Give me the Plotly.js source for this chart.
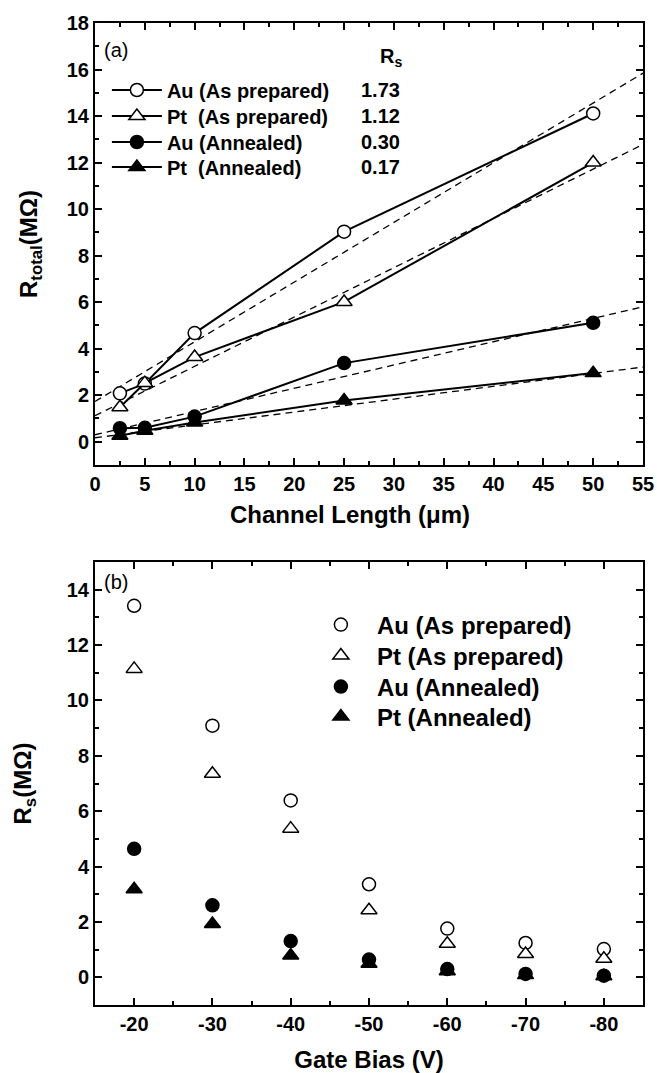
<!DOCTYPE html>
<html>
<head>
<meta charset="utf-8">
<script src="https://cdn.plot.ly/plotly-3.0.1.min.js"></script>
<style>html,body{margin:0;padding:0;background:#fff;}</style>
</head>
<body>
<div id="chart" style="width:657px;height:1073px;"></div>
<script>
// Panel (a): total resistance against channel length
const channelLength = [2.5, 5, 10, 25, 50];
const auPrepTotal = [2.08, 2.50, 4.67, 9.03, 14.11];
const ptPrepTotal = [1.48, 2.52, 3.64, 6.01, 12.00];
const auAnnTotal  = [0.58, 0.60, 1.08, 3.38, 5.11];
const ptAnnTotal  = [0.26, 0.47, 0.83, 1.77, 2.95];

// Linear fits of panel (a): intercept equals Rs, slope in MΩ per µm
const fitRs    = [1.73, 1.12, 0.30, 0.17];
const fitSlope = [0.2566, 0.212, 0.100, 0.0553];
const fitRange = [0, 55];

// Panel (b): series resistance against gate bias
const gateBias = [-20, -30, -40, -50, -60, -70, -80];
const gateBiasLabels = ['-20', '-30', '-40', '-50', '-60', '-70', '-80'];
const auPrepRs = [13.42, 9.09, 6.39, 3.36, 1.76, 1.24, 1.02];
const ptPrepRs = [11.14, 7.35, 5.37, 2.42, 1.21, 0.84, 0.67];
const auAnnRs  = [4.64, 2.60, 1.31, 0.64, 0.30, 0.12, 0.06];
const ptAnnRs  = [3.18, 1.93, 0.79, 0.49, 0.22, 0.08, 0.04];

const namesA = ['Au (As prepared)', 'Pt  (As prepared)', 'Au (Annealed)', 'Pt  (Annealed)'];
const namesB = ['Au (As prepared)', 'Pt (As prepared)', 'Au (Annealed)', 'Pt (Annealed)'];

const FONT = 'Liberation Sans, Arial, Helvetica, sans-serif';
const markerStyles = [
  {symbol: 'circle', color: '#fff'},
  {symbol: 'triangle-up', color: '#fff'},
  {symbol: 'circle', color: '#000'},
  {symbol: 'triangle-up', color: '#000'}
];
const markerSize = [13, 14, 13, 14];

const totals = [auPrepTotal, ptPrepTotal, auAnnTotal, ptAnnTotal];
const rsSeries = [auPrepRs, ptPrepRs, auAnnRs, ptAnnRs];

// one legend box per key row, so each row sits at its own height
const legendIdsA = ['legend', 'legend2', 'legend3', 'legend4'];
const legendIdsB = ['legend5', 'legend6', 'legend7', 'legend8'];
const rowPxA = [90, 116, 142, 167];
const rowPxB = [625, 656, 687, 717];

const traces = [];

// dashed fit lines behind the measured points
fitRs.forEach((b, i) => {
  traces.push({
    x: fitRange,
    y: fitRange.map(L => b + fitSlope[i] * L),
    xaxis: 'x', yaxis: 'y',
    mode: 'lines',
    line: {color: '#000', width: 1.3, dash: '7px,5px'},
    showlegend: false, hoverinfo: 'skip'
  });
});

totals.forEach((ys, i) => {
  traces.push({
    x: channelLength, y: ys, name: namesA[i],
    xaxis: 'x', yaxis: 'y', legend: legendIdsA[i],
    mode: 'lines+markers',
    line: {color: '#000', width: 2},
    marker: {symbol: markerStyles[i].symbol, color: markerStyles[i].color,
             size: markerSize[i], line: {color: '#000', width: 1.5}}
  });
});

rsSeries.forEach((ys, i) => {
  traces.push({
    x: gateBias, y: ys, name: namesB[i],
    xaxis: 'x2', yaxis: 'y2', legend: legendIdsB[i],
    mode: 'markers',
    marker: {symbol: markerStyles[i].symbol, color: markerStyles[i].color,
             size: markerSize[i], line: {color: '#000', width: 1.5}}
  });
});

const axisBase = {
  showline: true, linewidth: 2, linecolor: '#000', mirror: 'ticks',
  ticks: 'inside', ticklen: 7, tickwidth: 2, tickcolor: '#000',
  showgrid: false, zeroline: false,
  tickfont: {family: FONT, size: 20, color: '#000', weight: 'bold'},
  minor: {ticks: 'inside', ticklen: 4, tickwidth: 2, tickcolor: '#000', showgrid: false}
};
const titleFont = {family: FONT, size: 24, color: '#000', weight: 'bold'};
const boldFont = (size) => ({family: FONT, size: size, color: '#000', weight: 'bold'});

const plotTop = 23, plotBottomPx = 1005, plotH = 982;
const paperY = (px) => (plotBottomPx - px) / plotH;

const layout = {
  width: 657, height: 1073,
  margin: {l: 95, r: 14, t: plotTop, b: 68},
  paper_bgcolor: '#fff', plot_bgcolor: '#fff',
  font: boldFont(20),
  xaxis: Object.assign({}, axisBase, {
    anchor: 'y', domain: [0, 1], range: [0, 55], tick0: 0, dtick: 5,
    minor: Object.assign({}, axisBase.minor, {dtick: 2.5})
  }),
  yaxis: Object.assign({}, axisBase, {
    anchor: 'x', domain: [0.5499, 1], range: [-1, 18], tick0: 0, dtick: 2,
    minor: Object.assign({}, axisBase.minor, {dtick: 1}),
    title: {text: 'R<sub>total</sub>(MΩ)', font: titleFont, standoff: 22}
  }),
  xaxis2: Object.assign({}, axisBase, {
    anchor: 'y2', domain: [0, 1], range: [-15, -85],
    tickmode: 'array', tickvals: gateBias, ticktext: gateBiasLabels,
    minor: Object.assign({}, axisBase.minor, {tickmode: 'linear', tick0: 0, dtick: 5}),
    title: {text: 'Gate Bias (V)', font: titleFont, standoff: 22}
  }),
  yaxis2: Object.assign({}, axisBase, {
    anchor: 'x2', domain: [0, 0.4511], range: [-1, 15], tick0: 0, dtick: 2,
    minor: Object.assign({}, axisBase.minor, {dtick: 1}),
    title: {text: 'R<sub>s</sub>(MΩ)', font: titleFont, standoff: 28}
  }),
  annotations: [
    // x title of panel (a), set slightly left of the panel centre
    {text: 'Channel Length (μm)', xref: 'x domain', yref: 'y domain', x: 0.465, y: -0.113,
     xanchor: 'center', yanchor: 'middle', showarrow: false, font: titleFont},
    {text: '(a)', xref: 'x domain', yref: 'y domain', x: 0.013, y: 0.94,
     xanchor: 'left', yanchor: 'middle', showarrow: false,
     font: {family: FONT, size: 20, color: '#000', weight: 'normal'}},
    {text: '(b)', xref: 'x2 domain', yref: 'y2 domain', x: 0.013, y: 0.955,
     xanchor: 'left', yanchor: 'middle', showarrow: false,
     font: {family: FONT, size: 20, color: '#000', weight: 'normal'}},
    {text: 'R<sub>s</sub>', xref: 'x domain', yref: 'y domain', x: 0.516, y: 0.923,
     xanchor: 'left', yanchor: 'middle', showarrow: false, font: boldFont(20)}
  ]
};

legendIdsA.forEach((id, i) => {
  layout[id] = {
    x: 0.0217, y: paperY(rowPxA[i]), xanchor: 'left', yanchor: 'middle',
    bgcolor: 'rgba(0,0,0,0)', borderwidth: 0, itemwidth: 50, font: boldFont(20)
  };
});
legendIdsB.forEach((id, i) => {
  layout[id] = {
    x: 0.383, y: paperY(rowPxB[i]), xanchor: 'left', yanchor: 'middle',
    bgcolor: 'rgba(0,0,0,0)', borderwidth: 0, itemwidth: 62, font: boldFont(24)
  };
});

const rowY = [0.8484, 0.7896, 0.7308, 0.6742];
fitRs.forEach((v, i) => {
  layout.annotations.push({
    text: v.toFixed(2), xref: 'x domain', yref: 'y domain', x: 0.56, y: rowY[i],
    xanchor: 'right', yanchor: 'middle', showarrow: false, font: boldFont(20)
  });
});

Plotly.newPlot('chart', traces, layout, {staticPlot: true, displayModeBar: false});
</script>
</body>
</html>
